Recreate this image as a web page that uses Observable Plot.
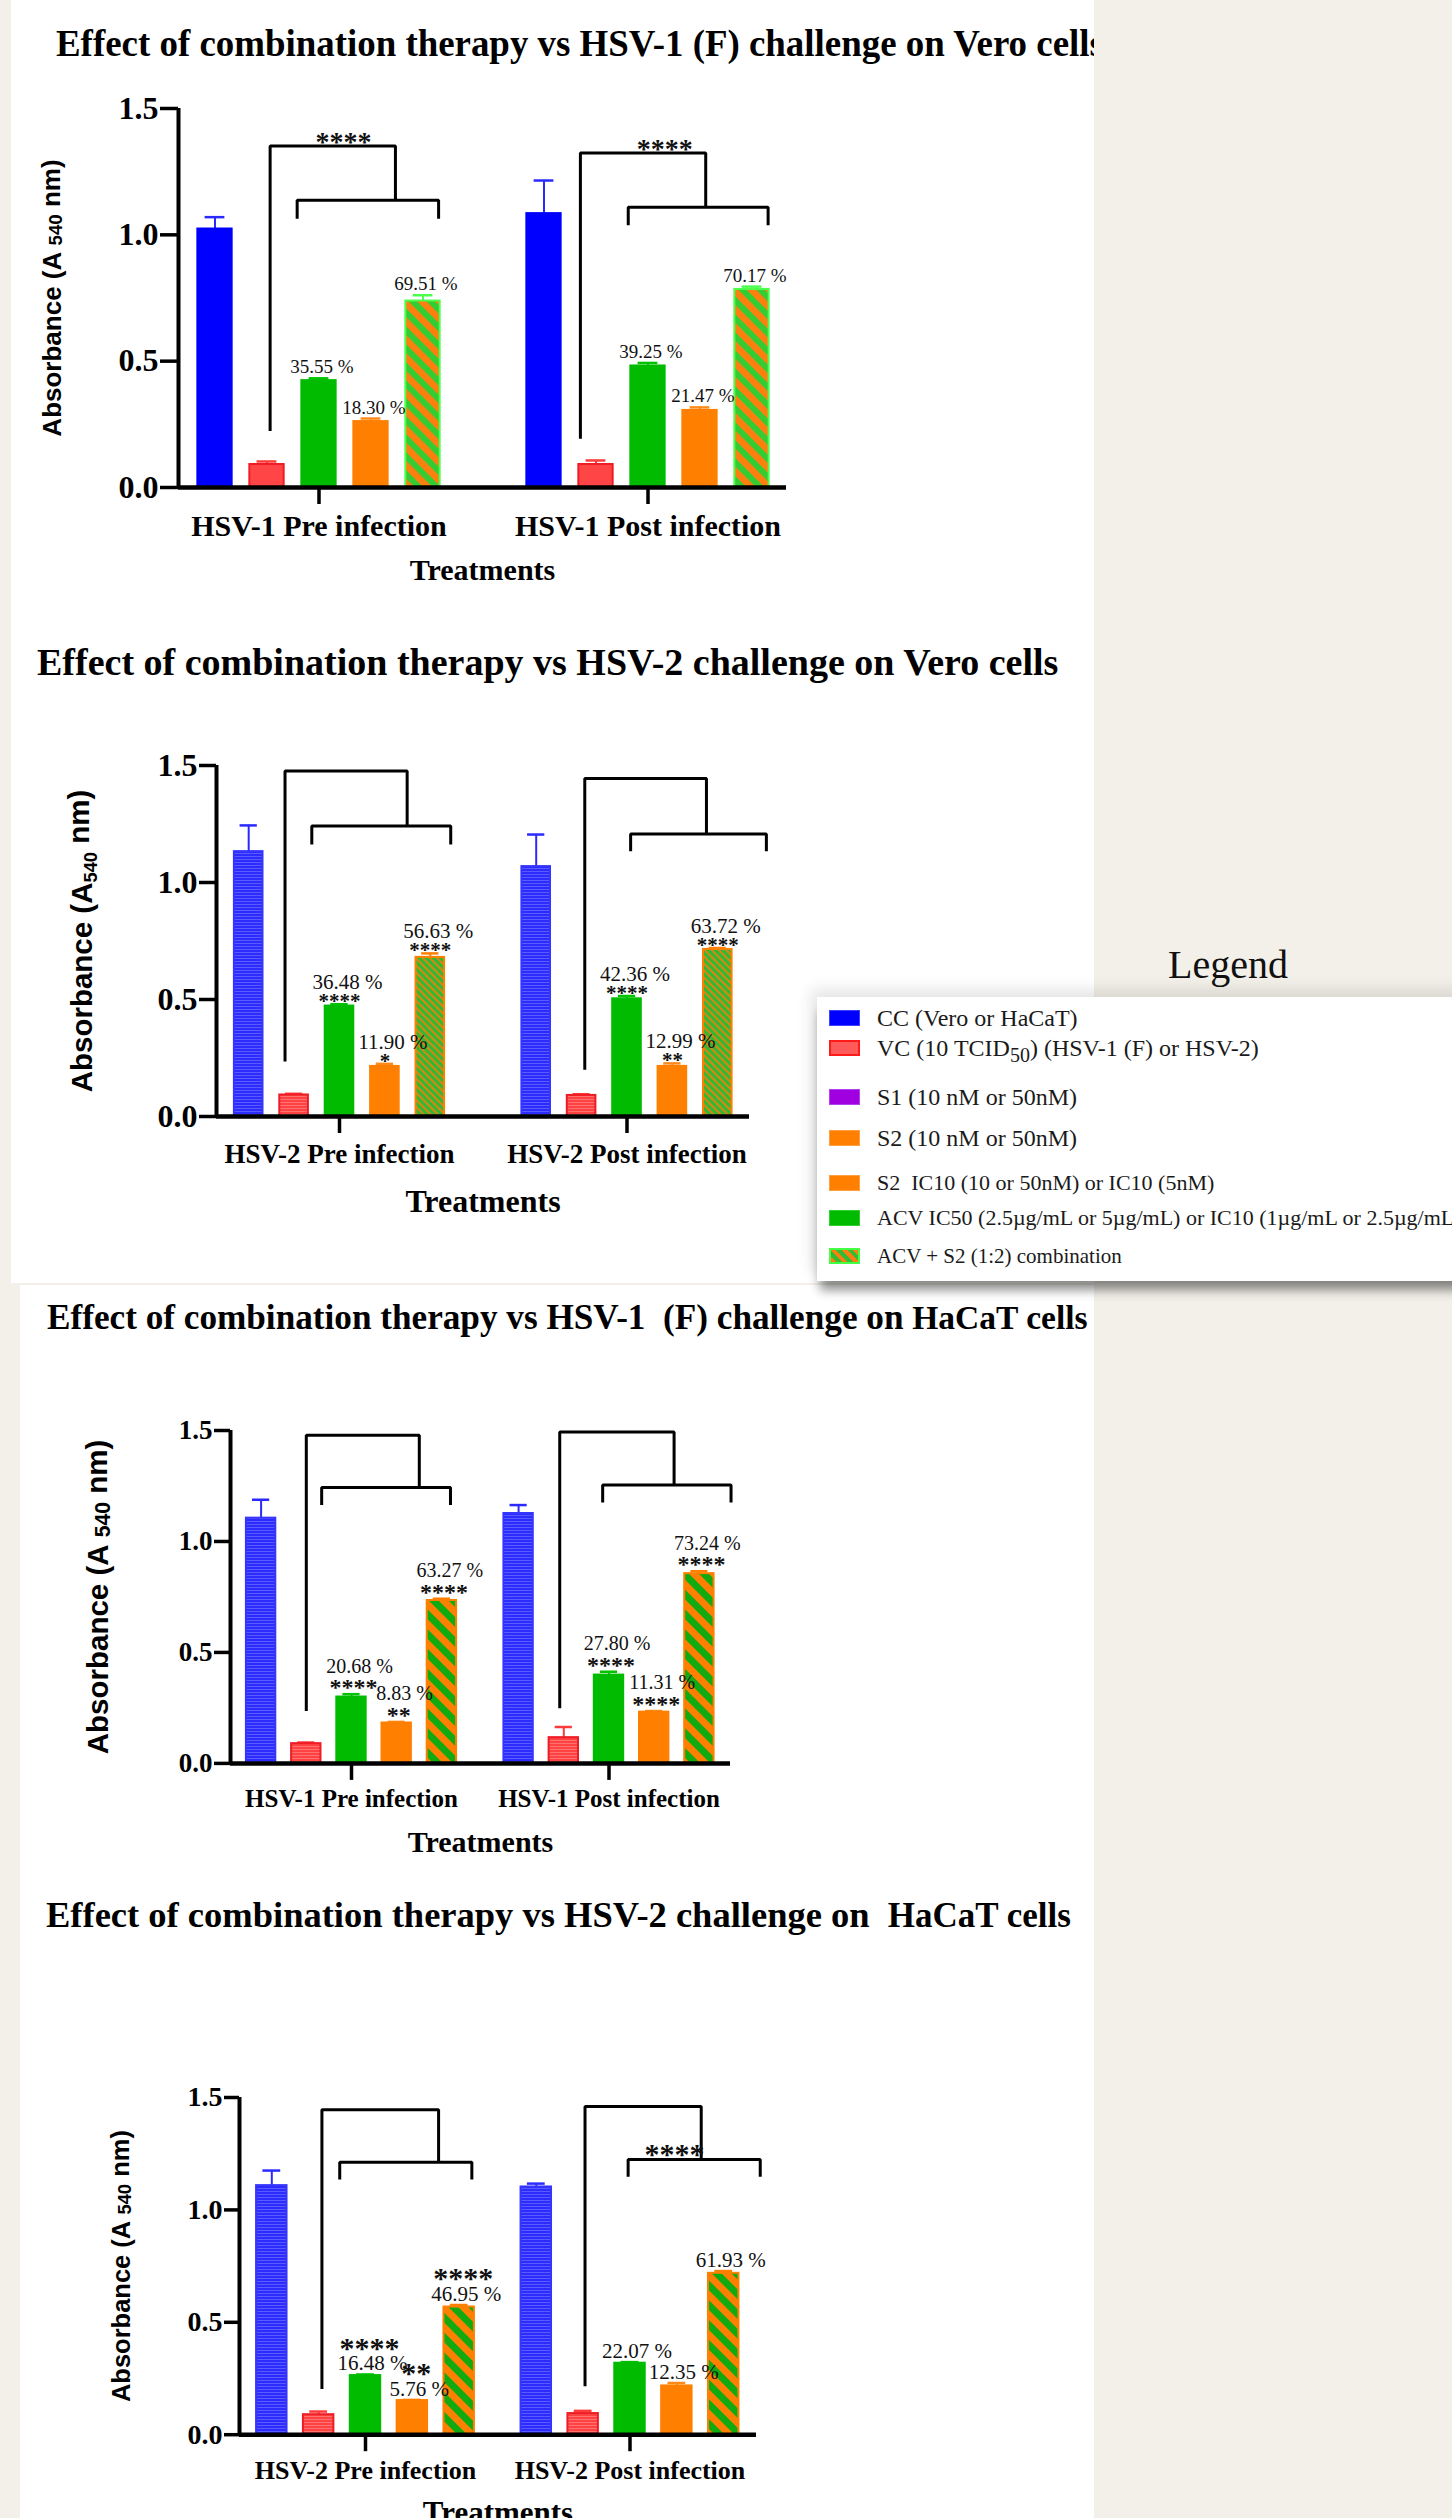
<!DOCTYPE html>
<html>
<head>
<meta charset="utf-8">
<script src="https://cdn.jsdelivr.net/npm/d3@7"></script>
<script src="https://cdn.jsdelivr.net/npm/@observablehq/plot@0.6"></script>
<style>
  html, body { margin: 0; padding: 0; background: #f3f0e9; }
  #page { position: relative; width: 1452px; height: 2518px; overflow: hidden; background: #f3f0e9; }
  .panel { position: absolute; background: #ffffff; }
  .title { position: absolute; font-family: "Liberation Serif", "Times New Roman", serif; font-weight: bold; white-space: pre; color: #000; line-height: 1; }
  .lg { position: absolute; font-family: "Liberation Serif", "Times New Roman", serif; color: #1a1a1a; white-space: pre; line-height: 1; }
  .sw { position: absolute; box-sizing: border-box; }
</style>
</head>
<body>
<div id="page"></div>
<script>
// ---------------- DATA ----------------
const barKeys = ["CC", "VC", "ACV", "S2", "COMBO"];
const yTicks = [0, 0.5, 1.0, 1.5];
const xTitle = "Treatments";
const yTitleParts = ["Absorbance (A", "540", "nm)"];

// Panel 1: HSV-1 (F) on Vero
const p1Title = "Effect of combination therapy vs HSV-1 (F) challenge on Vero cells";
const p1Groups = ["HSV-1 Pre infection", "HSV-1 Post infection"];
const p1Mean = [[1.023, 0.091, 0.423, 0.261, 0.738], [1.084, 0.091, 0.481, 0.305, 0.784]];
const p1Err  = [[1.070, 0.103, 0.432, 0.273, 0.761], [1.215, 0.107, 0.493, 0.317, 0.795]];
const p1Pct  = [["", "", "35.55 %", "18.30 %", "69.51 %"], ["", "", "39.25 %", "21.47 %", "70.17 %"]];
const p1Stars = [["", "", "", "", ""], ["", "", "", "", ""]];
const p1BracketX = [[1.06, 3.47, 1.58, 4.30], [0.70, 3.11, 1.62, 4.31]];
const p1BracketY = [[0.224, 1.352, 1.137, 1.064], [0.193, 1.324, 1.109, 1.038]];
const p1BracketStars = ["****", "****"];
const p1BracketStarX = [2.47, 2.32];
const p1BracketStarY = [1.352, 1.324];

// Panel 2: HSV-2 on Vero
const p2Title = "Effect of combination therapy vs HSV-2 challenge on Vero cells";
const p2Groups = ["HSV-2 Pre infection", "HSV-2 Post infection"];
const p2Mean = [[1.132, 0.092, 0.472, 0.214, 0.680], [1.068, 0.090, 0.503, 0.214, 0.714]];
const p2Err  = [[1.244, 0.097, 0.480, 0.225, 0.697], [1.205, 0.095, 0.515, 0.227, 0.720]];
const p2Pct  = [["", "", "36.48 %", "11.90 %", "56.63 %"], ["", "", "42.36 %", "12.99 %", "63.72 %"]];
const p2Stars = [["", "", "****", "*", "****"], ["", "", "****", "**", "****"]];
const p2BracketX = [[0.80, 3.49, 1.39, 4.45], [1.07, 3.75, 2.08, 5.07]];
const p2BracketY = [[0.235, 1.476, 1.241, 1.162], [0.200, 1.444, 1.207, 1.134]];
const p2BracketStars = ["", ""];
const p2BracketStarX = [0, 0];
const p2BracketStarY = [0, 0];

// Panel 3: HSV-1 (F) on HaCaT
const p3Title = "Effect of combination therapy vs HSV-1  (F) challenge on ";
const p3TitleEnd = "HaCaT cells";
const p3Groups = ["HSV-1 Pre infection", "HSV-1 Post infection"];
const p3Mean = [[1.105, 0.089, 0.299, 0.182, 0.734], [1.126, 0.116, 0.398, 0.231, 0.855]];
const p3Err  = [[1.188, 0.094, 0.312, 0.187, 0.742], [1.164, 0.164, 0.413, 0.236, 0.866]];
const p3Pct  = [["", "", "20.68 %", "8.83 %", "63.27 %"], ["", "", "27.80 %", "11.31 %", "73.24 %"]];
const p3Stars = [["", "", "****", "**", "****"], ["", "", "****", "****", "****"]];
const p3BracketX = [[1.00, 3.50, 1.34, 4.19], [0.91, 3.44, 1.86, 4.70]];
const p3BracketY = [[0.236, 1.479, 1.243, 1.164], [0.249, 1.493, 1.254, 1.176]];
const p3BracketStars = ["", ""];
const p3BracketStarX = [0, 0];
const p3BracketStarY = [0, 0];

// Panel 4: HSV-2 on HaCaT
const p4Title = "Effect of combination therapy vs HSV-2 challenge on  ";
const p4TitleEnd = "HaCaT cells";
const p4Groups = ["HSV-2 Pre infection", "HSV-2 Post infection"];
const p4Mean = [[1.108, 0.089, 0.263, 0.152, 0.568], [1.102, 0.094, 0.318, 0.217, 0.718]];
const p4Err  = [[1.175, 0.103, 0.268, 0.155, 0.577], [1.117, 0.106, 0.323, 0.230, 0.728]];
const p4Pct  = [["", "", "16.48 %", "5.76 %", "46.95 %"], ["", "", "22.07 %", "12.35 %", "61.93 %"]];
const p4Stars = [["", "", "****", "**", "****"], ["", "", "", "", ""]];
const p4BracketX = [[1.07, 3.56, 1.45, 4.27], [1.04, 3.52, 1.96, 4.78]];
const p4BracketY = [[0.203, 1.446, 1.212, 1.135], [0.215, 1.460, 1.224, 1.148]];
const p4BracketStars = ["", "****"];
const p4BracketStarX = [0, 2.95];
const p4BracketStarY = [0, 1.224];

// Legend
const legendTitle = "Legend";
const legendLabels = [
  "CC (Vero or HaCaT)",
  "VC (10 TCID<sub>50</sub>) (HSV-1 (F) or HSV-2)",
  "S1 (10 nM or 50nM)",
  "S2 (10 nM or 50nM)",
  "S2  IC10 (10 or 50nM) or IC10 (5nM)",
  "ACV IC50 (2.5µg/mL or 5µg/mL) or IC10 (1µg/mL or 2.5µg/mL)",
  "ACV + S2 (1:2) combination"
];

// ---------------- LAYOUT / STYLE ----------------
const W = 1094;
const SERIF = "Liberation Serif, Times New Roman, serif";
const SANS = "Liberation Sans, Arial, DejaVu Sans, sans-serif";

function defsFor(i, fine) {
  return `<defs>
  <pattern id="cmb${i}" patternUnits="userSpaceOnUse" width="${fine ? 5 : (i === 1 ? 12.7 : 14)}" height="${fine ? 5 : (i === 1 ? 12.7 : 14)}" patternTransform="rotate(-45)">
    ${fine
      ? `<rect width="5" height="5" fill="#33b833"/><rect width="1.8" height="5" fill="#e8820f"/>`
      : i === 1
        ? `<rect width="12.7" height="12.7" fill="#33cc33"/><rect width="6.6" height="12.7" fill="#ff7f0e"/>`
        : `<rect width="14" height="14" fill="#ff8000"/><rect width="7" height="14" fill="#11aa11"/>`}
  </pattern>
  <pattern id="blu${i}" patternUnits="userSpaceOnUse" width="4" height="3">
    <rect width="4" height="3" fill="#2c2cff"/><rect width="4" height="1" fill="#5a5aff"/>
  </pattern>
  <pattern id="red${i}" patternUnits="userSpaceOnUse" width="4" height="3">
    <rect width="4" height="3" fill="#ff4242"/><rect width="4" height="1" fill="#ff7272"/>
  </pattern>
</defs>`;
}

function barStyle(i) {
  const textured = i !== 1;
  return {
    CC:    {fill: textured ? `url(#blu${i})` : "#0000ff", stroke: textured ? "#3535ff" : "#0000ff", err: "#2a2aff"},
    VC:    {fill: textured ? `url(#red${i})` : "#ff4545", stroke: "#ee1c24", err: "#ff3a3a"},
    ACV:   {fill: "#00bb00", stroke: "#00bb00", err: "#00c400"},
    S2:    {fill: "#ff8000", stroke: "#ff8000", err: "#ff8a1a"},
    COMBO: {fill: `url(#cmb${i})`, stroke: i === 1 ? "#4cff4c" : "#ff8000", err: i === 1 ? "#4cff4c" : "#ff8000"}
  };
}

const panels = [
  {i: 1, groups: p1Groups, mean: p1Mean, err: p1Err, pct: p1Pct, stars: p1Stars,
   bx: p1BracketX, by: p1BracketY, bs: p1BracketStars, bsx: p1BracketStarX, bsy: p1BracketStarY,
   sub: false,
   L: {axisLeft: 178, axisRight: 786, g1c: 318.5, g2c: 647.5, step: 52, Y15: 108, Y0: 487},
   S: {tick: 32, tickLen: 18, grp: 30, grpPad: 10.5, xt: 30, xtDy: 83, yt: 26, ytDx: -126,
       pctSize: 19, pctDx: 3, pctOff: 11, starSize: 0, starDx: 0, starOff: 0, bStarSize: 28, bStarGap: 9.5, bw: 0.66, fine: false}},
  {i: 2, groups: p2Groups, mean: p2Mean, err: p2Err, pct: p2Pct, stars: p2Stars,
   bx: p2BracketX, by: p2BracketY, bs: p2BracketStars, bsx: p2BracketStarX, bsy: p2BracketStarY,
   sub: true,
   L: {axisLeft: 216, axisRight: 749, g1c: 339, g2c: 626.5, step: 45.4, Y15: 765, Y0: 1116},
   S: {tick: 32, tickLen: 17, grp: 27, grpPad: 10.5, xt: 32, xtDy: 85, yt: 29.5, ytDx: -134,
       pctSize: 21, pctDx: 8, pctOff: 22, starSize: 21, starDx: 0, starOff: 7, bStarSize: 28, bStarGap: 9, bw: 0.63, fine: true}},
  {i: 3, groups: p3Groups, mean: p3Mean, err: p3Err, pct: p3Pct, stars: p3Stars,
   bx: p3BracketX, by: p3BracketY, bs: p3BracketStars, bsx: p3BracketStarX, bsy: p3BracketStarY,
   sub: false,
   L: {axisLeft: 230, axisRight: 730, g1c: 351, g2c: 608.5, step: 45.2, Y15: 1429.5, Y0: 1762.4},
   S: {tick: 27, tickLen: 16, grp: 25, grpPad: 9, xt: 30, xtDy: 79, yt: 29.5, ytDx: -132,
       pctSize: 20, pctDx: 8, pctOff: 28, starSize: 24, starDx: 2, starOff: 11, bStarSize: 28, bStarGap: 9, bw: 0.65, fine: false}},
  {i: 4, groups: p4Groups, mean: p4Mean, err: p4Err, pct: p4Pct, stars: p4Stars,
   bx: p4BracketX, by: p4BracketY, bs: p4BracketStars, bsx: p4BracketStarX, bsy: p4BracketStarY,
   sub: false,
   L: {axisLeft: 239, axisRight: 756, g1c: 365, g2c: 629.5, step: 46.85, Y15: 2097, Y0: 2434.2},
   S: {tick: 28, tickLen: 15, grp: 26, grpPad: 9, xt: 31, xtDy: 78.5, yt: 25.5, ytDx: -118,
       pctSize: 21, pctDx: 7, pctOff: 11, starSize: 30, starDx: 4, starOff: 32, bStarSize: 30, bStarGap: 10.5, bw: 0.65, fine: false}}
];

const page = document.getElementById("page");
function addEl(tag, cls, css, html) {
  const el = document.createElement(tag);
  if (cls) el.className = cls;
  el.style.cssText = css;
  if (html !== undefined) el.innerHTML = html;
  page.appendChild(el);
  return el;
}

// white panels
addEl("div", "panel", "left:11px;top:0px;width:1083px;height:1283px;");
addEl("div", "panel", "left:20px;top:1285px;width:1074px;height:1233px;");

function drawPanel(p) {
  const {L, S, i} = p;
  const G = (L.g2c - L.g1c) / L.step;
  const origin = L.g1c - 2 * L.step;
  const d0 = (L.axisLeft - origin) / L.step;
  const d1 = (L.axisRight - origin) / L.step;
  const mt = 80, mb = 100;
  const top = L.Y15 - mt;
  const height = Math.round(L.Y0 + mb - top);
  const mbReal = top + height - L.Y0;

  const rows = [];
  p.groups.forEach((g, gi) => barKeys.forEach((k, si) => rows.push({
    g, gi, k, si, pos: gi * G + si,
    value: p.mean[gi][si], err: p.err[gi][si], pct: p.pct[gi][si], star: p.stars[gi][si]
  })));
  const centers = p.groups.map((g, gi) => gi * G + 2);
  const st = barStyle(i);
  const half = S.bw / 2, cap = 0.19;

  const brackets = [];
  p.groups.forEach((g, gi) => {
    const [ol, oj, il, ir] = p.bx[gi].map(v => v + gi * G);
    const [ob, ot, it, ib] = p.by[gi];
    brackets.push({id: `o${gi}`, x: ol, y: ob}, {id: `o${gi}`, x: ol, y: ot}, {id: `o${gi}`, x: oj, y: ot}, {id: `o${gi}`, x: oj, y: it});
    brackets.push({id: `i${gi}`, x: il, y: ib}, {id: `i${gi}`, x: il, y: it}, {id: `i${gi}`, x: ir, y: it}, {id: `i${gi}`, x: ir, y: ib});
  });
  const bStars = p.bs.map((s, gi) => ({s, x: p.bsx[gi] + gi * G, y: p.bsy[gi]})).filter(d => d.s);

  const marks = [];
  for (const k of barKeys) {
    const data = rows.filter(d => d.k === k);
    const s = st[k];
    marks.push(Plot.ruleX(data, {x: "pos", y1: "value", y2: "err", stroke: s.err, strokeWidth: 2}));
    marks.push(Plot.ruleY(data, {y: "err", x1: d => d.pos - cap, x2: d => d.pos + cap, stroke: s.err, strokeWidth: 2.5}));
    marks.push(Plot.rect(data, {x1: d => d.pos - half, x2: d => d.pos + half, y1: 0, y2: "value", fill: s.fill, stroke: s.stroke, strokeWidth: 2}));
  }
  marks.push(Plot.ruleX([d0], {y1: 0, y2: 1.5, stroke: "#000", strokeWidth: 4}));
  marks.push(Plot.ruleY([0], {x1: d0, x2: d1, stroke: "#000", strokeWidth: 4.5}));
  marks.push(Plot.axisY(yTicks, {tickFormat: d3.format(".1f"), tickSize: S.tickLen, tickPadding: 2, strokeWidth: 3.5,
    fontSize: S.tick, fontWeight: "bold", fontFamily: SERIF, fill: "#000", stroke: "#000", label: null}));
  marks.push(Plot.axisX(centers, {tickFormat: d => p.groups[centers.indexOf(d)], tickSize: 17, tickPadding: S.grpPad,
    strokeWidth: 3.5, fontSize: S.grp, fontWeight: "bold", fontFamily: SERIF, fill: "#000", stroke: "#000", label: null}));
  marks.push(Plot.line(brackets, {x: "x", y: "y", z: "id", stroke: "#000", strokeWidth: 3, strokeLinejoin: "miter", strokeLinecap: "butt"}));

  // percentage and significance labels
  const withPct = rows.filter(d => d.pct);
  const withStar = rows.filter(d => d.star);
  const starShift = 0.19;
  marks.push(Plot.text(withStar, {x: "pos", y: "err", text: "star", dx: S.starDx, dy: -S.starOff + starShift * S.starSize, fontSize: S.starSize, fontWeight: "bold", fontFamily: SERIF, fill: "#111", lineAnchor: "middle"}));
  marks.push(Plot.text(withPct, {x: "pos", y: "err", text: "pct", dx: S.pctDx, dy: -S.pctOff, fontSize: S.pctSize, fontFamily: SERIF, fill: "#111", lineAnchor: "middle"}));
  marks.push(Plot.text(bStars, {x: "x", y: "y", text: "s", dy: -S.bStarGap + starShift * S.bStarSize, fontSize: S.bStarSize, fontWeight: "bold", fontFamily: SERIF, fill: "#111", lineAnchor: "middle"}));

  // axis titles
  const yTitleText = p.sub ? `${yTitleParts[0]}${yTitleParts[1]} ${yTitleParts[2]}` : yTitleParts.join(" ");
  marks.push(Plot.text([yTitleText], {frameAnchor: "left", dx: S.ytDx, rotate: -90, fontSize: S.yt, fontWeight: "bold", fontFamily: SANS, fill: "#000", lineAnchor: "middle", textAnchor: "middle", className: "ytitle"}));
  marks.push(Plot.text([xTitle], {frameAnchor: "bottom", dy: S.xtDy, fontSize: S.xt, fontWeight: "bold", fontFamily: SERIF, fill: "#000", lineAnchor: "middle"}));

  const svg = Plot.plot({
    width: W, height,
    marginLeft: L.axisLeft, marginRight: W - L.axisRight, marginTop: mt, marginBottom: mbReal,
    x: {domain: [d0, d1]},
    y: {domain: [0, 1.5]},
    style: {background: "transparent", overflow: "visible", fontFamily: SERIF, color: "#000"},
    marks
  });
  svg.insertAdjacentHTML("afterbegin", defsFor(i, S.fine));

  // render the "540" of the y title smaller (subscript in panel 2)
  svg.querySelectorAll("text").forEach(t => {
    if (t.textContent === yTitleText) {
      const ns = "http://www.w3.org/2000/svg";
      t.textContent = "";
      const a = document.createElementNS(ns, "tspan");
      a.textContent = yTitleParts[0] + (p.sub ? "" : " ");
      const b = document.createElementNS(ns, "tspan");
      b.textContent = yTitleParts[1];
      b.setAttribute("font-size", p.sub ? "0.62em" : "0.72em");
      b.setAttribute("dy", p.sub ? "0.3em" : "0.08em");
      const c = document.createElementNS(ns, "tspan");
      c.textContent = " " + yTitleParts[2];
      c.setAttribute("dy", p.sub ? "-0.3em" : "-0.08em");
      t.append(a, b, c);
    }
  });

  svg.style.position = "absolute";
  svg.style.left = "0px";
  svg.style.top = top + "px";
  page.appendChild(svg);
}

panels.forEach(drawPanel);

// titles
addEl("div", "title", "left:56px;top:26px;font-size:36.9px;", p1Title);
addEl("div", "title", "left:37px;top:643px;font-size:38px;", p2Title);
addEl("div", "title", "left:47px;top:1300px;font-size:35.2px;", p3Title + `<span style="font-size:33.5px">${p3TitleEnd}</span>`);
addEl("div", "title", "left:46px;top:1897px;font-size:36.5px;", p4Title + `<span style="font-size:35px">${p4TitleEnd}</span>`);

// beige strip on the right (covers the overflowing end of the first title)
addEl("div", "", "position:absolute;left:1094px;top:0;width:358px;height:2518px;background:#f3f0e9;");

// Legend
addEl("div", "lg", "left:1168px;top:945px;font-size:40px;color:#111;", legendTitle);
addEl("div", "", "position:absolute;left:817px;top:997px;width:700px;height:284px;background:#fff;box-shadow:0 12px 10px -3px rgba(0,0,0,0.45), -6px -8px 14px rgba(0,0,0,0.10);");
const rowY = [1018, 1048, 1097, 1138, 1183, 1218, 1256];
const rowSize = [24, 24, 24, 24, 22, 22, 21];
const swatches = [
  "background:#0000ff;border:1px solid #4040ff;",
  "background:#ff5a5a;border:2.5px solid #ff1a1a;",
  "background:#a000e0;border:1px solid #b040f0;",
  "background:#ff8000;border:1px solid #ffa040;",
  "background:#ff8000;border:1px solid #ffa040;",
  "background:#00bb00;border:1px solid #30d030;",
  "background:repeating-linear-gradient(45deg,#ff7f0e 0 4px,#33bb33 4px 8px);border:2px solid #44ff44;"
];
legendLabels.forEach((lab, k) => {
  addEl("div", "sw", `left:829px;top:${rowY[k] - 8}px;width:31px;height:16px;${swatches[k]}`);
  addEl("div", "lg", `left:877px;top:${rowY[k] - rowSize[k] * 0.5}px;font-size:${rowSize[k]}px;`, lab);
});
</script>
</body>
</html>
